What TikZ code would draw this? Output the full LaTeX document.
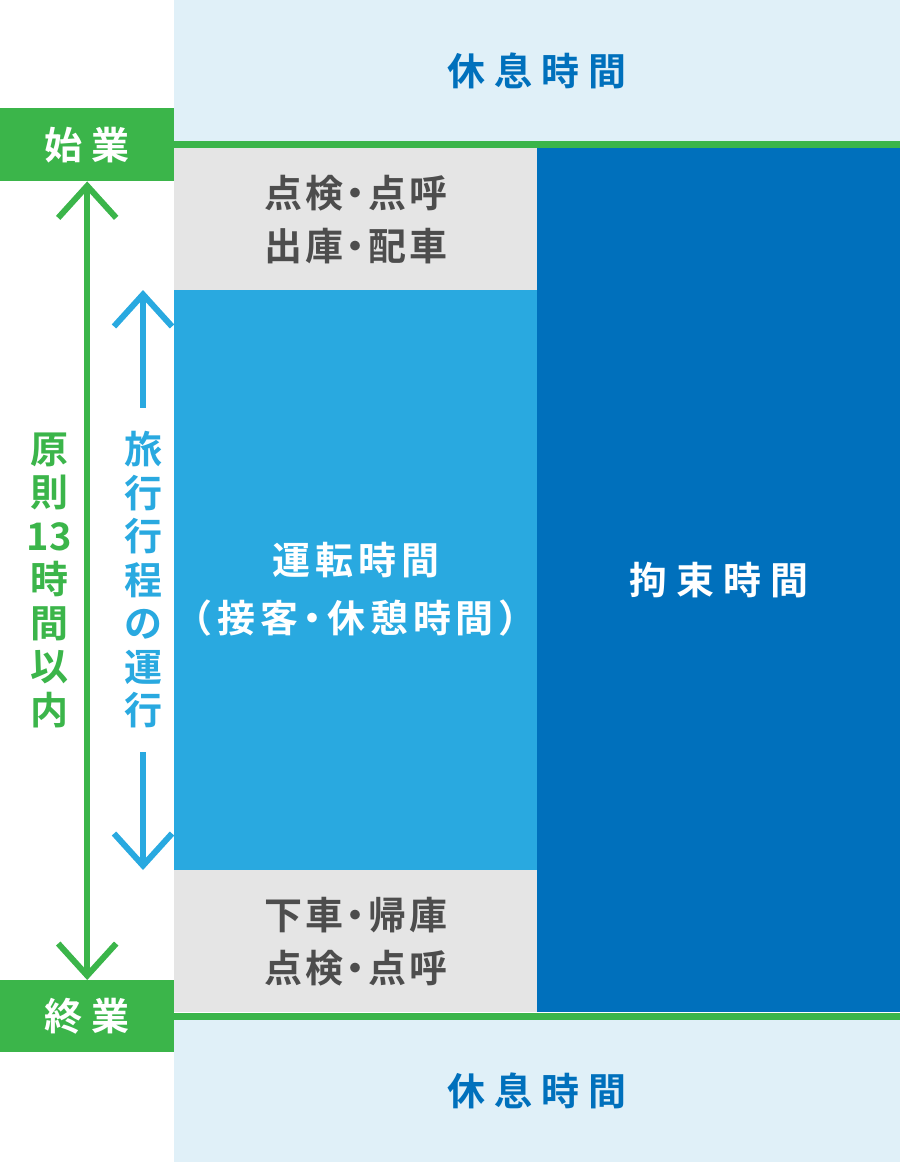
\documentclass[tikz,border=0pt]{standalone}
\usepackage{fontspec}
\newfontfamily\jp[RawFeature=+halt]{Noto Sans CJK JP Bold}
\usetikzlibrary{arrows.meta,positioning}
\definecolor{grn}{RGB}{59,181,74}
\definecolor{pale}{RGB}{224,240,248}
\definecolor{lgray}{RGB}{229,229,229}
\definecolor{sky}{RGB}{41,169,224}
\definecolor{navy}{RGB}{0,112,188}
\definecolor{dgray}{RGB}{77,77,77}
\newcommand{\trk}[1]{\addfontfeatures{LetterSpace=#1}}

\begin{document}
\begin{tikzpicture}[x=1pt,y=-1pt,>={Straight Barb[length=32pt,width=58pt,sharp]},every node/.style={inner sep=0pt}]
\tikzstyle{box}=[anchor=north west,align=center,minimum width=363pt]
\tikzstyle{wide}=[box,fill=pale,text=navy,minimum width=726pt,font=\jp\fontsize{38}{44}\selectfont\trk{24}]
\tikzstyle{tag}=[box,fill=grn,text=white,minimum width=174pt,minimum height=73pt,font=\jp\fontsize{38}{44}\selectfont\trk{24}]
\tikzstyle{chk}=[box,fill=lgray,text=dgray,minimum height=142pt,font=\jp\fontsize{38}{53}\selectfont\trk{8}]
\tikzstyle{vert}=[align=center,font=\jp\fontsize{38}{43.5}\selectfont]
\tikzstyle{gline}=[grn,line width=7pt]
\useasboundingbox (0,0) rectangle (900,1162);
% bands and blocks
\node[wide,minimum height=141pt] (rest1) at (174,0) {\raisebox{-3pt}{休息時間}};
\node[tag] (start) at (0,108) {始業};
\node[chk] (prep) at (174,148) {点検・点呼\\出庫・配車};
\node[box,fill=sky,minimum height=580pt] (drive) at (174,290) {};
\node[text=white,align=center,font=\jp\fontsize{38}{58}\selectfont\trk{13}] (drivetx) at ([yshift=-9pt]drive.center) {運転時間\\（接客・休憩時間）};
\node[chk] (ret) at (174,870) {下車・帰庫\\点検・点呼};
\node[box,fill=navy,text=white,minimum height=864pt,font=\jp\fontsize{38}{44}\selectfont\trk{24}] (bind) at (537,148) {拘束時間};
\node[tag,minimum height=72pt] (end) at (0,980) {終業};
\node[wide,minimum height=143pt] (rest2) at (174,1019) {休息時間};
\draw[gline] (start.east) -- (start.east -| bind.east);
\draw[gline] (end.east) -- (end.east -| bind.east);
% arrows
\node[vert,text=grn] (limit) at (49,580) {原\\則\\13\\時\\間\\以\\内};
\draw[<->,grn,line width=6pt] (start) -- (end);
\node[vert,text=sky,outer ysep=24pt] (travel) at (143,580) {旅\\行\\行\\程\\の\\運\\行};
\coordinate (tt) at (143,290);
\coordinate (tb) at (143,870);
\draw[->,sky,line width=6pt] (travel) -- (tt);
\draw[->,sky,line width=6pt] (travel) -- (tb);
\end{tikzpicture}
\end{document}
